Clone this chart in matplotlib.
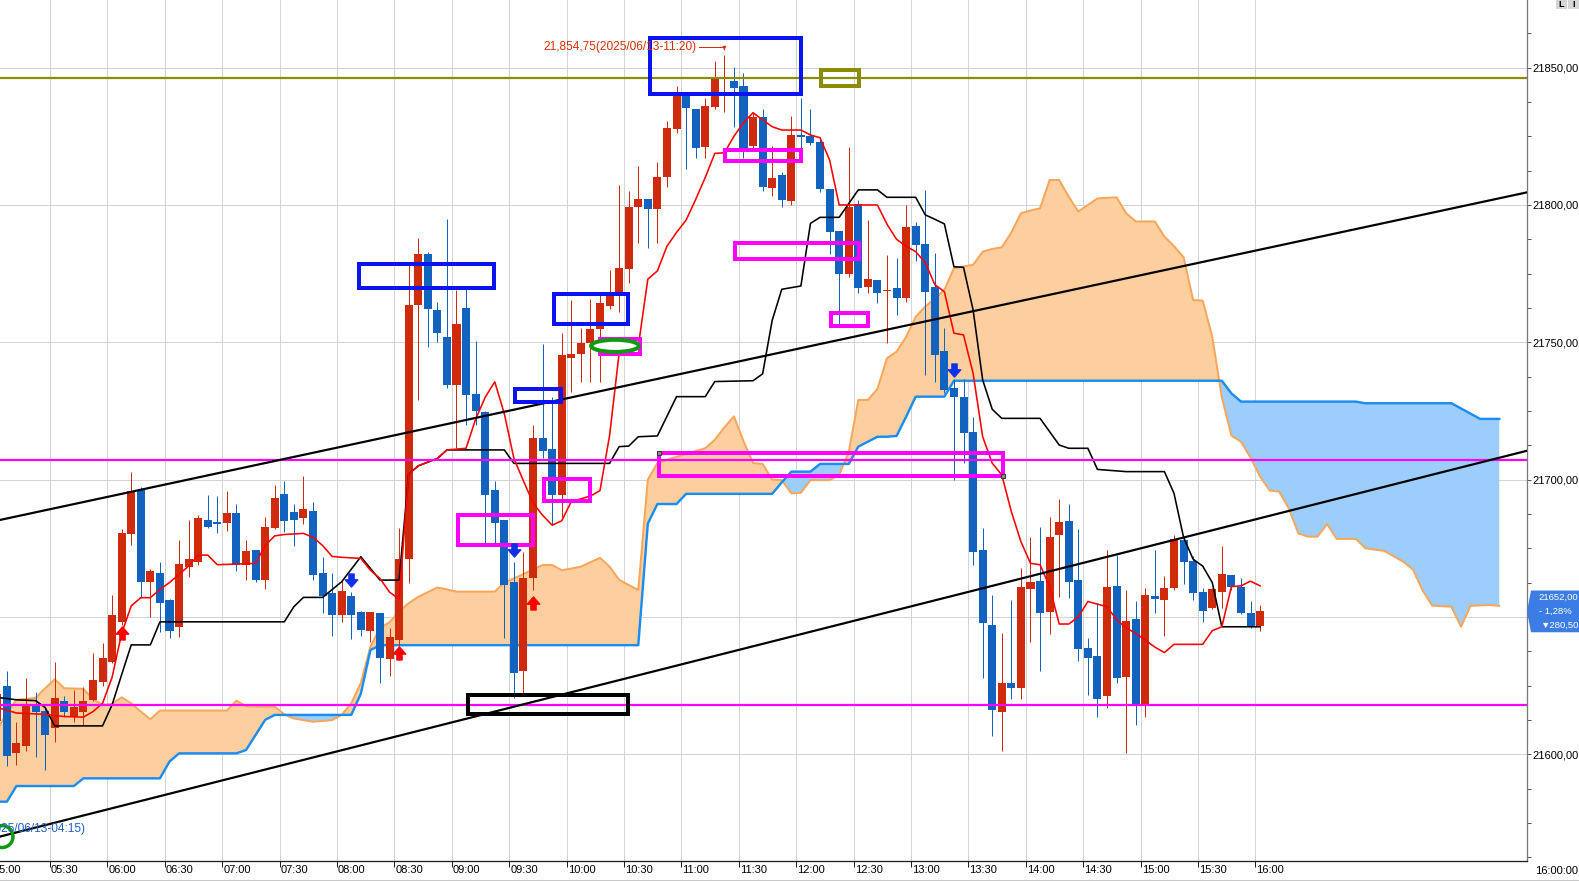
import numpy as np
import matplotlib
matplotlib.use("Agg")
import matplotlib.pyplot as plt
from matplotlib.patches import Rectangle, Ellipse, Polygon
from matplotlib.path import Path
from matplotlib.lines import Line2D
from matplotlib.transforms import blended_transform_factory
from matplotlib.ticker import MultipleLocator, FuncFormatter

FONT = ['Liberation Sans', 'DejaVu Sans']
plt.rcParams['font.family'] = FONT

# ---------------- data (5-minute bars, index 0 = 05:00 ... 132 = 16:00) ----------------
time_labels = ["05:00", "05:30", "06:00", "06:30", "07:00", "07:30", "08:00", "08:30",
               "09:00", "09:30", "10:00", "10:30", "11:00", "11:30", "12:00", "12:30",
               "13:00", "13:30", "14:00", "14:30", "15:00", "15:30", "16:00"]

opens = [21612, 21624.9, 21600.3, 21603.0, 21617.6, 21615.8, 21609.4, 21619.2, 21613.7, 21615.5,
         21619.8, 21626.4, 21633.7, 21648.2, 21680.2, 21696.2, 21662.8, 21665.8, 21656.1, 21646.4,
         21668.3, 21670.1, 21685.3, 21684.7, 21684.1, 21687.9, 21668.9, 21674.3, 21663.4, 21682.2,
         21694.7, 21688.3, 21685.9, 21688.5, 21666.1, 21658.8, 21650.7, 21657.6, 21651.9, 21644.8,
         21651.5, 21634.6, 21641.6, 21671.1, 21763.6, 21782.1, 21761.7, 21752.0, 21734.4, 21762.6,
         21731.1, 21724.7, 21696.2, 21685.3, 21662.8, 21630.3, 21664.3, 21715.0, 21711.0, 21694.4,
         21744.4, 21745.7, 21749.6, 21754.7, 21763.2, 21766.8, 21776.6, 21799.1, 21802.1, 21798.4,
         21810.3, 21827.6, 21839.7, 21834.8, 21821.2, 21835.6, 21846.1, 21845.3, 21843.3, 21821.5,
         21832.0, 21806.1, 21810.9, 21801.6, 21825.5, 21825.1, 21823.1, 21805.7, 21790.6, 21774.9,
         21800.4, 21770.3, 21772.7, 21768.6, 21769.7, 21766.0, 21792.4, 21785.8, 21770.0, 21746.8,
         21733.3, 21730.0, 21717.2, 21674.4, 21647.1, 21615.5, 21626.0, 21624.2, 21660.2, 21663.1,
         21651.9, 21679.8, 21684.9, 21663.4, 21638.8, 21635.8, 21621.3, 21661.3, 21628.2, 21649.1,
         21618.3, 21657.6, 21656.1, 21660.4, 21678.0, 21670.4, 21659.2, 21653.4, 21659.2, 21665.2,
         21661.0, 21651.3, 21646.8]

highs = [21630, 21630.3, 21611.9, 21627.7, 21622.8, 21617.0, 21633.4, 21621.2, 21623.4, 21624.6,
         21636.8, 21640.6, 21658.0, 21682.0, 21702.9, 21697.4, 21667.6, 21669.9, 21656.4, 21678.0,
         21685.3, 21687.0, 21694.4, 21694.0, 21695.8, 21691.1, 21678.0, 21674.5, 21686.2, 21698.0,
         21699.6, 21691.1, 21701.4, 21691.9, 21671.9, 21665.8, 21663.4, 21659.2, 21652.0, 21651.6,
         21651.5, 21645.8, 21682.2, 21778.1, 21787.8, 21783.0, 21764.8, 21794.9, 21769.0, 21769.3,
         21750.5, 21725.0, 21699.5, 21685.3, 21670.1, 21673.7, 21719.9, 21749.4, 21730.2, 21753.5,
         21765.4, 21755.1, 21765.6, 21767.8, 21776.3, 21807.3, 21805.0, 21814.3, 21802.1, 21815.8,
         21830.6, 21843.3, 21840.0, 21835.0, 21838.8, 21852.5, 21854.75, 21850.4, 21847.9, 21834.0,
         21834.8, 21821.5, 21812.1, 21832.4, 21839.0, 21834.8, 21824.9, 21806.0, 21790.6, 21821.2,
         21801.8, 21794.5, 21772.7, 21781.8, 21780.6, 21800.0, 21793.9, 21805.5, 21782.4, 21755.3,
         21736.5, 21736.5, 21722.9, 21682.2, 21658.0, 21644.2, 21656.2, 21667.9, 21679.0, 21682.9,
         21686.5, 21692.8, 21691.1, 21682.0, 21642.2, 21654.9, 21674.4, 21672.5, 21659.8, 21655.9,
         21660.4, 21674.4, 21664.9, 21679.8, 21679.2, 21672.0, 21660.4, 21660.4, 21675.8, 21665.2,
         21664.0, 21655.8, 21654.3]

lows = [21605, 21595.7, 21596.1, 21601.0, 21598.9, 21594.3, 21604.6, 21614.0, 21611.9, 21610.7,
        21619.2, 21625.0, 21633.1, 21647.0, 21676.2, 21656.7, 21650.1, 21644.6, 21642.4, 21642.8,
        21664.6, 21669.0, 21682.2, 21680.7, 21681.4, 21666.8, 21663.4, 21662.8, 21660.1, 21682.0,
        21681.0, 21675.9, 21683.8, 21663.4, 21651.5, 21643.0, 21648.0, 21641.8, 21643.0, 21641.0,
        21626.0, 21628.6, 21635.0, 21662.2, 21729.0, 21748.4, 21750.0, 21733.2, 21711.4, 21719.9,
        21719.9, 21676.8, 21676.8, 21642.2, 21620.5, 21622.0, 21659.8, 21708.0, 21683.4, 21686.5,
        21732.0, 21735.6, 21735.6, 21735.6, 21762.0, 21761.0, 21771.5, 21786.3, 21784.2, 21786.3,
        21806.7, 21826.1, 21813.0, 21817.0, 21817.0, 21834.8, 21834.0, 21828.5, 21817.0, 21820.0,
        21805.0, 21803.3, 21799.2, 21800.0, 21818.0, 21821.8, 21804.8, 21782.0, 21756.3, 21773.9,
        21768.0, 21768.0, 21764.2, 21749.9, 21759.9, 21764.8, 21779.7, 21738.1, 21735.7, 21731.4,
        21699.9, 21705.9, 21668.9, 21627.6, 21606.6, 21601.3, 21620.0, 21620.0, 21641.0, 21630.4,
        21643.8, 21657.4, 21656.8, 21634.0, 21621.6, 21613.7, 21616.7, 21626.0, 21600.3, 21610.6,
        21613.4, 21651.3, 21643.2, 21659.8, 21661.9, 21656.0, 21648.3, 21652.8, 21653.4, 21659.8,
        21651.0, 21646.0, 21645.0]

closes = [21622, 21599.4, 21604.2, 21617.6, 21615.5, 21607.0, 21620.4, 21615.5, 21617.1, 21619.2,
          21627.1, 21635.2, 21650.7, 21680.7, 21695.9, 21662.8, 21666.7, 21654.9, 21645.0, 21669.3,
          21671.1, 21685.9, 21682.6, 21683.7, 21687.9, 21668.9, 21674.0, 21663.4, 21682.6, 21693.4,
          21685.0, 21685.3, 21689.2, 21665.2, 21657.7, 21650.7, 21659.4, 21650.7, 21645.2, 21651.6,
          21635.1, 21642.8, 21671.1, 21763.6, 21782.1, 21762.3, 21753.5, 21734.4, 21756.6, 21730.8,
          21725.1, 21694.4, 21684.3, 21661.6, 21629.7, 21664.3, 21715.0, 21710.5, 21694.4, 21745.4,
          21745.7, 21749.6, 21754.7, 21764.2, 21766.8, 21776.9, 21799.2, 21802.1, 21798.4, 21810.1,
          21827.9, 21839.7, 21835.2, 21820.9, 21836.0, 21846.1, 21846.5, 21842.5, 21820.6, 21832.0,
          21806.4, 21809.7, 21801.8, 21825.5, 21824.9, 21822.4, 21805.7, 21790.3, 21774.9, 21799.1,
          21769.7, 21773.0, 21767.8, 21769.0, 21766.3, 21791.9, 21785.4, 21768.4, 21745.4, 21732.6,
          21730.2, 21717.1, 21673.8, 21647.7, 21616.1, 21626.0, 21624.2, 21661.0, 21662.8, 21651.5,
          21679.2, 21684.7, 21662.8, 21638.3, 21635.2, 21620.1, 21661.0, 21627.9, 21648.5, 21617.6,
          21658.0, 21656.4, 21660.4, 21678.4, 21670.1, 21658.6, 21652.3, 21660.0, 21665.6, 21661.0,
          21651.5, 21646.4, 21652.0]

# conversion line (red) : bar index, value
tenkan_idx = [0, 2, 5, 7, 9, 10, 11, 12, 13, 14, 15, 16, 17, 18, 19, 20, 21, 22, 23, 27, 28, 29, 30,
              32, 33, 34, 35, 36, 38, 39, 40, 41, 42, 43, 44, 46, 47, 49, 50, 51, 52, 53, 54, 55, 56,
              57, 58, 59, 60, 62, 63, 64, 65, 67, 68, 69, 70, 71, 72, 73, 74, 75, 76, 77, 78, 79, 80,
              81, 82, 84, 85, 86, 87, 88, 92, 93, 94, 95, 96, 97, 98, 99, 100, 101, 102, 103, 104,
              105, 106, 107, 108, 109, 110, 111, 112, 113, 114, 116, 117, 118, 119, 120, 121, 122,
              123, 126, 127, 128, 129, 130, 131, 132]
tenkan_val = [21617, 21615, 21614.5, 21613.7, 21613.5, 21615.5, 21618.5, 21628, 21644, 21654, 21657,
              21657, 21660, 21662.5, 21665.5, 21668.5, 21672.5, 21672.5, 21669, 21669.5, 21676,
              21679.5, 21680, 21680.4, 21679, 21676, 21672, 21671.7, 21671.3, 21667, 21664, 21659,
              21656.5, 21702, 21705, 21707.7, 21710.8, 21711.4, 21722, 21730, 21735.6, 21724,
              21707.7, 21699.5, 21691.5, 21687, 21683.4, 21685, 21692, 21694, 21696, 21716, 21746,
              21748.4, 21773, 21776, 21785, 21790, 21794.5, 21802, 21810, 21818.8, 21819, 21825,
              21830, 21833.6, 21831, 21828.5, 21827.3, 21827.3, 21825.5, 21824.5, 21816.4, 21800,
              21800, 21793, 21787.5, 21785, 21783, 21779, 21771, 21768.4, 21753.3, 21752.7, 21738.7,
              21715.6, 21706, 21701.7, 21688.3, 21677.4, 21669.5, 21669, 21661, 21647.4, 21647.4,
              21650, 21655.6, 21653.7, 21649, 21646, 21644, 21641.5, 21639, 21637, 21640, 21640,
              21645, 21646.4, 21661, 21661.3, 21663, 21661.3]

# base line (black)
kijun_idx = [0, 2, 4, 5, 6, 11, 12, 13, 14, 16, 17, 30, 31, 32, 34, 36, 38, 40, 42, 43, 44, 46, 47,
             53, 54, 64, 65, 66, 67, 69, 71, 74, 75, 79, 80, 81, 82, 84, 85, 86, 88, 90, 92, 93, 96,
             97, 98, 99, 100, 101, 102, 103, 104, 105, 109, 111, 112, 114, 115, 118, 122, 123, 124,
             125, 126, 127, 128, 132]
kijun_val = [21620.7, 21619.8, 21619.5, 21617, 21610.3, 21610.3, 21618, 21629, 21639.8, 21639.8,
             21648.2, 21648.2, 21653.7, 21657.1, 21657.1, 21662.8, 21671.9, 21663.4, 21663.4, 21702,
             21705, 21707.7, 21710.8, 21710.8, 21705.9, 21705.9, 21712, 21712.2, 21715.6, 21715.9,
             21730.2, 21730.2, 21735.7, 21736, 21738.5, 21758, 21769.3, 21770.5, 21793.3, 21795.5,
             21795.5, 21805.5, 21805.5, 21802.8, 21802.8, 21796.4, 21794.8, 21793.1, 21777.5,
             21777.3, 21761.8, 21736.3, 21725.6, 21722.3, 21722.3, 21712.6, 21711.4, 21711.4,
             21703.7, 21702.9, 21702.9, 21695, 21679, 21671, 21668.5, 21662.5, 21646.4, 21646.4]

# leading span A (cloud edge, orange) and leading span B (blue), bar index 0..157
span_a = [21609, 21615, 21619.8, 21620.1, 21620.5, 21624, 21627.3, 21624, 21623.9, 21623.8,
          21620, 21618, 21618.3, 21620.7, 21618.5, 21615.5, 21612.7, 21615.9, 21615.9, 21615.9,
          21615.9, 21615.9, 21615.9, 21615.9, 21615.9, 21619.5, 21617.5, 21617.4, 21617.3, 21617.3,
          21614.5, 21613, 21612.4, 21611.8, 21612.1, 21612.4, 21614.3, 21618.5, 21626, 21639.1,
          21646, 21648, 21652, 21655, 21657.3, 21659, 21660.7, 21660, 21659.2, 21659.2,
          21659.2, 21659.2, 21659.2, 21662.5, 21664, 21665.6, 21667.3, 21668.9, 21668.9, 21667,
          21667.6, 21668.3, 21669.9, 21671.5, 21668.3, 21663.5, 21661.6, 21659.8, 21700, 21706,
          21707.2, 21708.3, 21709.3, 21710.4, 21711.4, 21714.5, 21719, 21723, 21714, 21706,
          21705.7, 21700, 21699.8, 21695, 21695.2, 21699.8, 21699.8, 21699.8, 21701.7, 21710,
          21729, 21729, 21733, 21744.2, 21746.6, 21752, 21759.3, 21763, 21766, 21769.1,
          21777, 21777.6, 21778.2, 21783, 21784, 21784.6, 21790, 21797, 21798, 21798.8,
          21809.1, 21809.1, 21803, 21797.6, 21800, 21802.4, 21802.6, 21802.8, 21797, 21794,
          21794, 21794, 21788.5, 21785, 21781, 21765.4, 21765.2, 21752, 21730, 21716,
          21713.8, 21708, 21701.1, 21696, 21695.6, 21689.5, 21680.4, 21679.2, 21679.2, 21683.8,
          21678.4, 21678.4, 21678.4, 21675, 21674.5, 21674, 21672, 21670, 21667.1, 21659.5,
          21654.1, 21653.9, 21653.7, 21646.4, 21654, 21654.2, 21654.3, 21654]

span_b = [21582.7, 21582.7, 21588.4, 21588.4, 21588.4, 21588.4, 21588.4, 21588.4, 21588.4, 21591.2,
          21591.2, 21591.2, 21591.2, 21591.2, 21591.2, 21591.2, 21591.2, 21591.2, 21597.3, 21600.3,
          21600.3, 21600.3, 21600.3, 21600.3, 21600.3, 21600.3, 21601.5, 21607, 21612.5, 21614.3,
          21614.3, 21614.3, 21614.3, 21614.3, 21614.3, 21614.3, 21614.3, 21614.3, 21622, 21637.9,
          21639.7, 21639.7, 21639.7, 21639.7, 21639.7, 21639.7, 21639.7, 21639.7, 21639.7, 21639.7,
          21639.7, 21639.7, 21639.7, 21639.7, 21639.7, 21639.7, 21639.7, 21639.7, 21639.7, 21639.7,
          21639.7, 21639.7, 21639.7, 21639.7, 21639.7, 21639.7, 21639.7, 21639.7, 21684, 21691.1,
          21691.1, 21691.1, 21694.8, 21694.8, 21694.8, 21694.8, 21694.8, 21694.8, 21694.8, 21694.8,
          21694.8, 21694.8, 21699, 21702.9, 21702.9, 21702.9, 21705.7, 21705.7, 21705.7, 21705.7,
          21712, 21713.8, 21715.6, 21715.6, 21715.9, 21722.9, 21730.2, 21730.2, 21730.2, 21730.2,
          21736, 21736, 21736, 21736, 21736, 21736, 21736, 21736, 21736, 21736,
          21736, 21736, 21736, 21736, 21736, 21736, 21736, 21736, 21736, 21736,
          21736, 21736, 21736, 21736, 21736, 21736, 21736, 21736, 21736, 21731.4,
          21728.4, 21728.4, 21728.4, 21728.4, 21728.4, 21728.4, 21728.4, 21728.4, 21728.4, 21728.4,
          21728.4, 21728.4, 21728.4, 21727.8, 21727.8, 21727.8, 21727.8, 21727.8, 21727.8, 21727.8,
          21727.8, 21727.8, 21727.8, 21725.9, 21724, 21722.1, 21722.1, 21722.1]

# signal arrows
buy_idx = [13, 42, 56]
buy_price = [21644.0, 21637.0, 21655.0]
sell_idx = [37, 54, 100]
sell_price = [21663.6, 21674.4, 21739.9]

# user drawings (bar index / price)
hline_olive = 21846.4
hlines_magenta = [21707.1, 21617.9]
trend_upper = [(0.28, 21685.3), (159.9, 21804.6)]
trend_lower = [(0.28, 21570.0), (159.9, 21710.5)]
boxes = [  # (i0, p0, i1, p1, colour)
    (37.86, 21769.8, 51.95, 21778.6, '#0A14F0'),
    (58.17, 21756.8, 65.96, 21767.7, '#0A14F0'),
    (54.08, 21728.4, 58.95, 21733.1, '#0A14F0'),
    (68.22, 21840.5, 84.00, 21860.9, '#0A14F0'),
    (86.13, 21843.2, 90.12, 21849.3, '#8C8C00'),
    (76.10, 21816.1, 84.04, 21819.9, '#FF00FF'),
    (77.14, 21780.3, 90.12, 21786.2, '#FF00FF'),
    (87.18, 21755.8, 91.00, 21760.7, '#FF00FF'),
    (48.15, 21676.3, 56.00, 21687.2, '#FF00FF'),
    (57.10, 21692.1, 62.00, 21700.3, '#FF00FF'),
    (69.13, 21701.3, 105.09, 21709.7, '#FF00FF'),
    (63.00, 21745.9, 67.18, 21751.2, '#FF00FF'),
    (49.20, 21614.7, 65.90, 21621.5, '#000000'),
]
ellipse_mark = (64.57, 21748.7, 5.0, 4.4)
circle_mark = (0.49, 21570.0, 2.3, 8.0)
high_text = "21,854,75(2025/06/13-11:20)"
high_idx, high_price = 76, 21854.75
low_text = "21,570,25(2025/06/13-04:15)"
last_change = ["- 1,28%", "\u25bc280,50"]

# ---------------- figure ----------------
W, H = 1579, 881
PX = 0.72  # points per pixel at 100 dpi
FS = 8.0
fig = plt.figure(figsize=(W / 100, H / 100), dpi=100, facecolor='white')
ax = fig.add_axes([0, 20 / H, 1527 / W, 861 / H])
ax.set_facecolor('white')
ax.set_xlim(0.282, 159.9)
ax.set_ylim(21561.1, 21874.65)

# grid
grid_pos = [6 * j - 0.5 for j in range(len(time_labels))]
for g in grid_pos:
    ax.axvline(g, color='#D3D3D3', lw=1.0 * PX, zorder=0)
for p in range(21600, 21851, 50):
    ax.axhline(p, color='#D3D3D3', lw=1.0 * PX, zorder=0)

# cloud
kc = np.arange(len(span_a))
a = np.array(span_a)
b = np.array(span_b)
ax.fill_between(kc, a, b, where=a >= b, interpolate=True, color='#FDCF9E', lw=0, zorder=1)
ax.fill_between(kc, a, b, where=a < b, interpolate=True, color='#9DCEFB', lw=0, zorder=1)
ax.plot(kc, a, color='#F8A65C', lw=2.0 * PX, zorder=1.5)
ax.plot(kc, b, color='#1A8CF2', lw=2.4 * PX, zorder=1.6)

# candles
RED, BLUE = '#D02A0C', '#1262C0'
idx = np.arange(len(opens))
o = np.array(opens); c = np.array(closes); hi = np.array(highs); lo = np.array(lows)
cols = np.where(c >= o, RED, BLUE)
ax.vlines(idx, lo, hi, colors=cols, lw=1.0 * PX, zorder=3)
body_lo = np.minimum(o, c)
body_h = np.maximum(np.abs(c - o), 0.35)
ax.bar(idx, body_h, bottom=body_lo, width=0.84, color=cols, lw=0, zorder=3.1)

# indicator lines
ax.plot(kijun_idx, kijun_val, color='#000000', lw=1.6 * PX, zorder=4)
ax.plot(tenkan_idx, tenkan_val, color='#FF0000', lw=1.6 * PX, zorder=4.1)

# horizontal & trend lines
ax.axhline(hline_olive, color='#8C8C00', lw=2.2 * PX, zorder=5)
for hp in hlines_magenta:
    ax.axhline(hp, color='#FF00FF', lw=2.2 * PX, zorder=5)
for tl in (trend_upper, trend_lower):
    ax.plot([tl[0][0], tl[1][0]], [tl[0][1], tl[1][1]], color='#000000', lw=2.2 * PX, zorder=5)

# boxes
for (i0, p0, i1, p1, col) in boxes:
    ax.add_patch(Rectangle((i0, p0), i1 - i0, p1 - p0, fill=False, ec=col,
                           lw=4.0 * PX, zorder=6, joinstyle='miter'))
big = boxes[10]
ax.plot([big[0]], [big[3]], marker='s', ms=5 * PX, mfc='#8A8A8A', mec='#333333', mew=0.7, zorder=6.5)
ax.plot([big[2]], [big[1]], marker='s', ms=5 * PX, mfc='#8A8A8A', mec='#333333', mew=0.7, zorder=6.5)
ex, ey, ew, eh = ellipse_mark
ax.add_patch(Ellipse((ex, ey), ew, eh, fc='white', ec='#109A10', lw=4.0 * PX, zorder=6.6))
cx, cy, cw, ch = circle_mark
ax.add_patch(Ellipse((cx, cy), cw, ch, fill=False, ec='#109A10', lw=3.5 * PX, zorder=6.6))

# signal arrows
up_arrow = Path([(-0.2, -0.5), (0.2, -0.5), (0.2, -0.05), (0.48, -0.05), (0.0, 0.5),
                 (-0.48, -0.05), (-0.2, -0.05), (-0.2, -0.5)], closed=True)
down_arrow = Path([(x, -y) for (x, y) in up_arrow.vertices], closed=True)
ax.plot(buy_idx, buy_price, ls='none', marker=up_arrow, ms=13 * PX, mfc='#FF0000', mec='#FF0000', zorder=7)
ax.plot(sell_idx, sell_price, ls='none', marker=down_arrow, ms=13 * PX, mfc='#1030E8', mec='#1030E8', zorder=7)

# high / low annotations
ax.text(high_idx - 2.9, high_price + 2.85, high_text, color='#D8300A', fontsize=8.6,
        ha='right', va='center', zorder=8)
ax.plot([high_idx - 2.7, high_idx], [high_price + 2.85, high_price + 2.85], color='#D8300A', lw=1.0 * PX, zorder=8)
ax.annotate('', xy=(high_idx, high_price + 0.6), xytext=(high_idx, high_price + 2.85),
            arrowprops=dict(arrowstyle='-|>', color='#D8300A', lw=1.0 * PX, mutation_scale=5), zorder=8)
ax.text(9.2, 21572.8, low_text, color='#1E60C8', fontsize=8.6, ha='right', va='center',
        zorder=8, clip_on=True)

# axes styling
for s in ('top', 'left'):
    ax.spines[s].set_visible(False)
ax.spines['right'].set_color('#7A7A7A')
ax.spines['right'].set_linewidth(1.3 * PX)
ax.spines['bottom'].set_color('#202020')
ax.spines['bottom'].set_linewidth(1.3 * PX)

ax.yaxis.tick_right()
ax.yaxis.set_major_locator(MultipleLocator(50))
ax.yaxis.set_minor_locator(MultipleLocator(12.5))
ax.yaxis.set_major_formatter(FuncFormatter(lambda v, pos: f"{v:.2f}".replace('.', ',')))
ax.tick_params(axis='y', which='both', direction='out', length=4 * PX, width=1.0 * PX,
               color='#555555', labelsize=FS, pad=1.0, labelcolor='#000000')

in_view = [g for g in grid_pos if 0.282 <= g <= 159.9]
ax.set_xticks(in_view)
ax.tick_params(axis='x', which='both', direction='out', length=6 * PX, width=1.0 * PX,
               color='#202020', labelbottom=False)

tr_x = blended_transform_factory(ax.transData, fig.transFigure)
for g, lab in zip(grid_pos, time_labels):
    ax.text(g + 0.12, 11 / H, lab, transform=tr_x, fontsize=FS, ha='left', va='center',
            color='#000000', clip_on=False)
fig.text(1578 / W, 10 / H, "16:00:00", fontsize=FS, ha='right', va='center', color='#000000')

# last price label
tr_y = blended_transform_factory(fig.transFigure, ax.transData)
last = closes[-1]
poly = Polygon([(1527 / W, last), (1531 / W, last + 7.6), (1.0, last + 7.6), (1.0, last - 7.6),
                (1531 / W, last - 7.6)], closed=True, transform=tr_y, fc='#3B7DE4', ec='none',
               clip_on=False, zorder=20)
ax.add_patch(poly)
LFS = 6.8
ax.text(1578.5 / W, last + 5.0, f"{last:.2f}".replace('.', ','), transform=tr_y, color='white',
        fontsize=LFS, ha='right', va='center', zorder=21, clip_on=False)
ax.text(1572 / W, last + 0.1, last_change[0], transform=tr_y, color='white',
        fontsize=LFS, ha='right', va='center', zorder=21, clip_on=False)
ax.text(1578.5 / W, last - 5.0, last_change[1], transform=tr_y, color='white',
        fontsize=LFS, ha='right', va='center', zorder=21, clip_on=False)

# L / I buttons
for x0, lab in ((1556, 'L'), (1568, 'I')):
    fig.add_artist(Rectangle((x0 / W, 1 - 9 / H), 11 / W, 9 / H, transform=fig.transFigure,
                             fc='#D6D6D6', ec='none'))
    fig.text((x0 + 5.5) / W, 1 - 4.5 / H, lab, fontsize=6.5, fontweight='bold',
             ha='center', va='center', color='#000000')

fig.add_artist(Line2D([0, 1], [0.6 / H, 0.6 / H], transform=fig.transFigure, color='#C8C8C8', lw=1.0 * PX))

fig.savefig('out.png', dpi=100, facecolor='white')
